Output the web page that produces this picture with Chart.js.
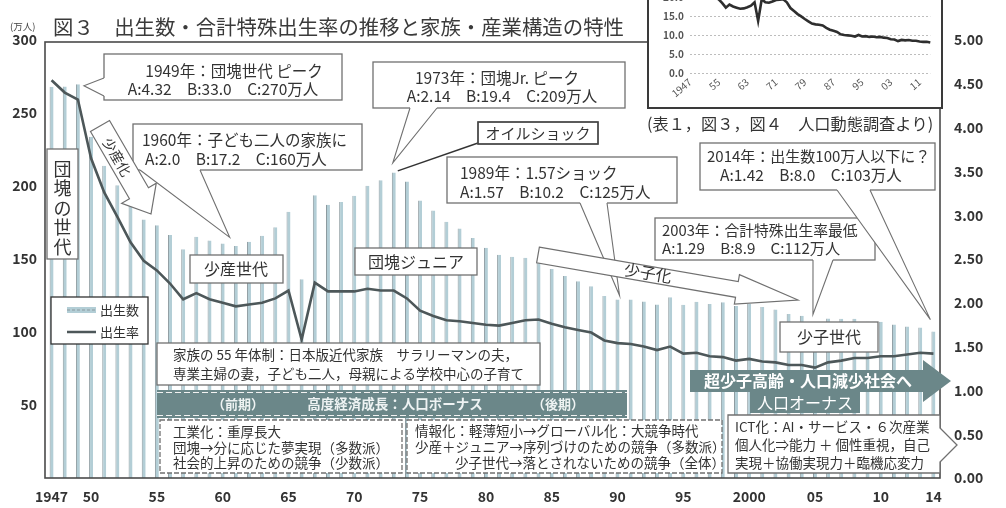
<!DOCTYPE html>
<html>
<head>
<meta charset="utf-8">
<script src="https://cdn.jsdelivr.net/npm/chart.js@4/dist/chart.umd.min.js"></script>
<style>
html, body { margin: 0; padding: 0; background: #fff; overflow: hidden; width: 1006px; height: 508px; }
#wrap { position: relative; width: 1006px; height: 508px; }
#main { position: absolute; left: 0; top: 0; }
#insetBox { position: absolute; left: 647px; top: -96px; width: 292px; height: 201px; border: 2px solid #3a3a3a; background: #fff; }
#inset { display: block; }
</style>
</head>
<body>
<div id="wrap">
  <canvas id="main" width="1006" height="508"></canvas>
  <div id="insetBox"><canvas id="inset" width="292" height="201"></canvas></div>
</div>
<script>
// data (births in 万人, TFR, crude birth rate per 1000)
var years = [1947,1948,1949,1950,1951,1952,1953,1954,1955,1956,
  1957,1958,1959,1960,1961,1962,1963,1964,1965,1966,
  1967,1968,1969,1970,1971,1972,1973,1974,1975,1976,
  1977,1978,1979,1980,1981,1982,1983,1984,1985,1986,
  1987,1988,1989,1990,1991,1992,1993,1994,1995,1996,
  1997,1998,1999,2000,2001,2002,2003,2004,2005,2006,
  2007,2008,2009,2010,2011,2012,2013,2014];
var births = [267.9,268.2,269.7,233.8,213.8,200.5,186.8,177.0,173.1,166.5,
  156.7,165.3,162.6,160.6,158.9,161.9,166.0,171.7,182.4,136.1,
  193.6,187.2,189.0,193.4,200.1,203.9,209.2,203.0,190.1,183.3,
  175.5,170.9,164.3,157.7,152.9,151.5,150.9,149.0,143.2,138.3,
  134.7,131.4,124.7,122.2,122.3,120.9,118.8,123.8,118.7,120.7,
  119.2,120.3,117.8,119.1,117.1,115.4,112.4,111.1,106.3,109.3,
  109.0,109.1,107.0,107.1,105.1,103.7,103.0,100.4];
var tfr = [4.54,4.40,4.32,3.65,3.26,2.98,2.69,2.48,2.37,2.22,
  2.04,2.11,2.04,2.00,1.96,1.98,2.00,2.05,2.14,1.58,
  2.23,2.13,2.13,2.13,2.16,2.14,2.14,2.05,1.91,1.85,
  1.80,1.79,1.77,1.75,1.74,1.77,1.80,1.81,1.76,1.72,
  1.69,1.66,1.57,1.54,1.53,1.50,1.46,1.50,1.42,1.43,
  1.39,1.38,1.34,1.36,1.33,1.32,1.29,1.29,1.26,1.32,
  1.34,1.37,1.37,1.39,1.39,1.41,1.43,1.42];
var crudeRate = [34.3,33.5,33.0,28.1,25.3,23.4,21.5,20.0,19.4,18.4,
  17.2,18.0,17.5,17.2,16.9,17.0,17.3,17.7,18.6,13.7,
  19.4,18.6,18.5,18.8,19.2,19.3,19.4,18.6,17.1,16.3,
  15.5,14.9,14.2,13.6,13.0,12.8,12.7,12.5,11.9,11.4,
  11.1,10.8,10.2,10.0,9.9,9.8,9.6,10.0,9.6,9.7,
  9.5,9.6,9.4,9.5,9.3,9.2,8.9,8.8,8.4,8.7,
  8.6,8.7,8.5,8.5,8.3,8.2,8.2,8.0];
var mainTickYears = [1947,1950,1955,1960,1965,1970,1975,1980,1985,1990,1995,2000,2005,2010,2014];
var mainTickLabels = ['1947','50','55','60','65','70','75','80','85','90','95','2000','05','10','14'];
var insetTickYears = [1947,1955,1963,1971,1979,1987,1995,2003,2011];
var insetTickLabels = ['1947','55','63','71','79','87','95','03','11'];

var JP = '"Noto Sans CJK JP", "Noto Sans", sans-serif';
var EDGE = '#707070';
var DARK = '#6b8789';

function txt(ctx, s, x, y, size, opt) {
  opt = opt || {};
  ctx.font = (opt.bold ? 'bold ' : '') + size + 'px ' + JP;
  ctx.fillStyle = opt.color || '#333';
  ctx.textAlign = opt.align || 'left';
  ctx.textBaseline = 'middle';
  ctx.fillText(s, x, y);
}
function box(ctx, x, y, w, h, dash) {
  ctx.fillStyle = '#fff';
  ctx.fillRect(x, y, w, h);
  ctx.strokeStyle = EDGE; ctx.lineWidth = 1.3;
  ctx.setLineDash(dash ? [5, 2] : []);
  ctx.strokeRect(x, y, w, h);
  ctx.setLineDash([]);
}
function callout(ctx, x, y, w, h, p1, p2, tip) {
  box(ctx, x, y, w, h);
  ctx.fillStyle = '#fff';
  ctx.beginPath(); ctx.moveTo(p1[0], p1[1]); ctx.lineTo(tip[0], tip[1]); ctx.lineTo(p2[0], p2[1]); ctx.closePath(); ctx.fill();
  // open the border where the wedge joins
  ctx.strokeStyle = '#fff'; ctx.lineWidth = 2.2;
  ctx.beginPath(); ctx.moveTo(p1[0], p1[1]); ctx.lineTo(p2[0], p2[1]); ctx.stroke();
  ctx.strokeStyle = EDGE; ctx.lineWidth = 1.1;
  ctx.beginPath(); ctx.moveTo(p1[0], p1[1]); ctx.lineTo(tip[0], tip[1]); ctx.lineTo(p2[0], p2[1]); ctx.stroke();
}
function blockArrow(ctx, x1, y1, x2, y2, bh, hh, hl, fill, stroke) {
  var ang = Math.atan2(y2 - y1, x2 - x1), L = Math.hypot(x2 - x1, y2 - y1);
  ctx.save(); ctx.translate(x1, y1); ctx.rotate(ang);
  ctx.beginPath();
  ctx.moveTo(0, -bh); ctx.lineTo(L - hl, -bh); ctx.lineTo(L - hl, -hh); ctx.lineTo(L, 0);
  ctx.lineTo(L - hl, hh); ctx.lineTo(L - hl, bh); ctx.lineTo(0, bh); ctx.closePath();
  ctx.fillStyle = fill; ctx.fill();
  if (stroke) { ctx.strokeStyle = stroke; ctx.lineWidth = 1.2; ctx.stroke(); }
  ctx.restore();
}
function rotText(ctx, s, x, y, ang, size) {
  ctx.save(); ctx.translate(x, y); ctx.rotate(ang);
  txt(ctx, s, 0, 0, size, { align: 'center' });
  ctx.restore();
}

var annotate = {
  id: 'annotate',
  afterDatasetsDraw: function(chart) {
    var ctx = chart.ctx, a = chart.chartArea;
    var xs = chart.scales.x, yl = chart.scales.y;
    var px = function(yr) { return xs.getPixelForValue(years.indexOf(yr)); };
    var py = function(v) { return yl.getPixelForValue(v); };
    ctx.save();
    // plot frame
    ctx.strokeStyle = '#4a4a4a'; ctx.lineWidth = 1.6;
    ctx.strokeRect(a.left, a.top + 2, a.right - a.left, a.bottom - a.top - 2);

    // callouts
    callout(ctx, 104, 54, 238, 46, [104, 78], [104, 96], [px(1949) + 6, py(270) + 2]);
    txt(ctx, '1949年：団塊世代 ピーク', 234, 71, 15.5, { align: 'center' });
    txt(ctx, 'A:4.32　B:33.0　C:270万人', 223, 89, 15.5, { align: 'center' });

    callout(ctx, 133, 124, 229, 46, [140, 170], [200, 170], [px(1960) + 7, py(160) - 7]);
    txt(ctx, '1960年：子ども二人の家族に', 142, 140, 15.5);
    txt(ctx, 'A:2.0　B:17.2　C:160万人', 145, 159, 15.5);

    callout(ctx, 373, 62, 252, 46, [410, 108], [437, 108], [px(1973) - 1, py(209) - 10]);
    txt(ctx, '1973年：団塊Jr. ピーク', 497, 78, 15.5, { align: 'center' });
    txt(ctx, 'A:2.14　B:19.4　C:209万人', 502, 96, 15.5, { align: 'center' });

    ctx.strokeStyle = '#333'; ctx.lineWidth = 1.5;
    ctx.beginPath(); ctx.moveTo(478, 143); ctx.lineTo(px(1973) + 4, py(209) - 2); ctx.stroke();
    box(ctx, 478, 122, 120, 22);
    ctx.strokeStyle = '#444'; ctx.lineWidth = 1.5; ctx.strokeRect(478, 122, 120, 22);
    txt(ctx, 'オイルショック', 538, 133, 15, { align: 'center' });

    callout(ctx, 447, 157, 230, 46, [580, 203], [607, 203], [px(1990) + 2, py(125)]);
    txt(ctx, '1989年：1.57ショック', 460, 173, 15.5);
    txt(ctx, 'A:1.57　B:10.2　C:125万人', 460, 192, 15.5);

    callout(ctx, 655, 218, 220, 42, [813, 260], [833, 260], [px(2005) - 2, py(112)]);
    txt(ctx, '2003年：合計特殊出生率最低', 662, 230, 14.8);
    txt(ctx, 'A:1.29　B:8.9　C:112万人', 662, 248, 15.2);

    callout(ctx, 700, 143, 235, 47, [837, 190], [870, 190], [px(2014) - 3, py(103) - 8]);
    txt(ctx, '2014年：出生数100万人以下に？', 707, 156, 15);
    txt(ctx, 'A:1.42　B:8.0　C:103万人', 720, 175, 15.5);

    // generation labels
    box(ctx, 47, 149, 31, 110);
    var dk = ['団', '塊', 'の', '世', '代'];
    for (var i = 0; i < dk.length; i++) txt(ctx, dk[i], 62.5, 169 + i * 19.5, 18, { align: 'center' });
    box(ctx, 190, 255, 93, 28); txt(ctx, '少産世代', 236, 269, 16, { align: 'center' });
    box(ctx, 355, 248, 122, 27); txt(ctx, '団塊ジュニア', 416, 262, 16, { align: 'center' });
    box(ctx, 780, 322, 98, 30); txt(ctx, '少子世代', 829, 337, 16, { align: 'center' });

    // arrows
    blockArrow(ctx, 100, 126, 151, 214, 11, 20, 24, '#fff', EDGE);
    rotText(ctx, '少産化', 117, 157, Math.atan2(88, 51), 14);
    blockArrow(ctx, 538, 255, 798, 300, 8, 15, 62, '#fff', EDGE);
    rotText(ctx, '少子化', 648, 273, Math.atan2(45, 260), 16);

    // legend
    ctx.fillStyle = '#fff'; ctx.fillRect(51, 297, 97, 47);
    ctx.strokeStyle = '#333'; ctx.lineWidth = 1.3; ctx.strokeRect(51, 297, 97, 47);
    ctx.fillStyle = '#b3ced6'; ctx.fillRect(67, 307, 29, 6);
    ctx.strokeStyle = '#8c9a9f'; ctx.lineWidth = 1; ctx.setLineDash([3, 2]);
    ctx.beginPath(); ctx.moveTo(67, 310); ctx.lineTo(96, 310); ctx.stroke(); ctx.setLineDash([]);
    txt(ctx, '出生数', 100, 310, 13);
    ctx.strokeStyle = '#4d5759'; ctx.lineWidth = 2.5;
    ctx.beginPath(); ctx.moveTo(67, 332); ctx.lineTo(96, 332); ctx.stroke();
    txt(ctx, '出生率', 100, 332, 13);

    // family system box
    box(ctx, 157, 343, 383, 42);
    txt(ctx, '家族の 55 年体制：日本版近代家族　サラリーマンの夫，', 173, 355, 13.5);
    txt(ctx, '専業主婦の妻，子ども二人，母親による学校中心の子育て', 173, 374, 13.5);

    // high growth band
    ctx.fillStyle = DARK; ctx.fillRect(157, 390, 470, 28);
    ctx.strokeStyle = '#f2f2f2'; ctx.lineWidth = 1.2; ctx.setLineDash([6, 3]);
    ctx.beginPath(); ctx.moveTo(157, 392.5); ctx.lineTo(627, 392.5); ctx.moveTo(157, 415.5); ctx.lineTo(627, 415.5); ctx.stroke();
    ctx.setLineDash([]);
    txt(ctx, '（前期）', 238, 404, 13, { align: 'center', bold: true, color: '#eef3f3' });
    txt(ctx, '高度経済成長：人口ボーナス', 395, 404, 13.5, { align: 'center', bold: true, color: '#eef3f3' });
    txt(ctx, '（後期）', 558, 404, 13, { align: 'center', bold: true, color: '#eef3f3' });

    // shrinking society arrow
    blockArrow(ctx, 690, 381, 951, 381, 11, 21, 28, DARK, null);
    txt(ctx, '超少子高齢・人口減少社会へ', 808, 381, 16, { align: 'center', bold: true, color: '#fff' });
    ctx.fillStyle = DARK; ctx.fillRect(750, 392, 110, 21);
    txt(ctx, '人口オーナス', 805, 403, 16, { align: 'center', color: '#fff' });

    // industry boxes
    box(ctx, 160, 420, 242, 53, true);
    txt(ctx, '工業化：重厚長大', 173, 432, 13.5);
    txt(ctx, '団塊→分に応じた夢実現（多数派）', 173, 448, 13.5);
    txt(ctx, '社会的上昇のための競争（少数派）', 173, 463, 13.5);

    box(ctx, 407, 420, 315, 53, true);
    txt(ctx, '情報化：軽薄短小→グローバル化：大競争時代', 415, 431, 13.5);
    txt(ctx, '少産＋ジュニア→序列づけのための競争（多数派）', 415, 447, 13.5);
    txt(ctx, '少子世代→落とされないための競争（全体）', 455, 463, 13.5);

    ctx.fillStyle = '#fff';
    ctx.beginPath();
    ctx.moveTo(728, 415); ctx.lineTo(940, 415); ctx.lineTo(940, 428); ctx.lineTo(957, 445);
    ctx.lineTo(940, 462); ctx.lineTo(940, 473); ctx.lineTo(728, 473); ctx.closePath();
    ctx.fill(); ctx.strokeStyle = EDGE; ctx.lineWidth = 1.3; ctx.stroke();
    txt(ctx, 'ICT化：AI・サービス・６次産業', 735, 427, 13.5);
    txt(ctx, '個人化⇒能力 ＋ 個性重視，自己', 735, 445, 13.5);
    txt(ctx, '実現＋協働実現力＋臨機応変力', 735, 463, 13.5);
    ctx.restore();
  },
  afterDraw: function(chart) {
    var ctx = chart.ctx;
    ctx.save();
    txt(ctx, '図３　出生数・合計特殊出生率の推移と家族・産業構造の特性', 53, 27, 20.4, { color: '#3a3a3a' });
    txt(ctx, '(万人)', 10, 26, 9.5, { color: '#444' });
    txt(ctx, '(表１，図３，図４　人口動態調査より)', 647, 124, 16.2, { color: '#333' });
    ctx.restore();
  }
};

new Chart(document.getElementById('main'), {
  data: {
    labels: years,
    datasets: [
      { type: 'line', label: '出生率', data: tfr, yAxisID: 'y1', order: 0,
        borderColor: '#4d5759', borderWidth: 2.6, pointRadius: 0, tension: 0 },
      { type: 'bar', label: '出生数', data: births, yAxisID: 'y', order: 1,
        backgroundColor: '#b3ced6', borderColor: '#8d9ba0',
        borderWidth: { left: 1, right: 0, top: 0, bottom: 0 },
        barPercentage: 0.3, categoryPercentage: 1 }
    ]
  },
  options: {
    responsive: false,
    animation: false,
    layout: { padding: { top: 40, left: 0, right: 0, bottom: 0 } },
    plugins: { legend: { display: false }, tooltip: { enabled: false } },
    scales: {
      x: {
        offset: true,
        grid: { display: false, drawTicks: false },
        border: { display: false },
        ticks: {
          autoSkip: false, maxRotation: 0, minRotation: 0, padding: 10,
          color: '#333', font: { size: 14, weight: 'bold', family: JP },
          callback: function(v, i) {
            var k = mainTickYears.indexOf(years[i]);
            return k >= 0 ? mainTickLabels[k] : '';
          }
        },
        afterFit: function(s) { s.height = 30; }
      },
      y: {
        position: 'left', min: 0, max: 300,
        grid: { display: false, drawTicks: false },
        border: { display: false },
        ticks: {
          stepSize: 50, padding: 8, color: '#333', font: { size: 14, weight: 'bold', family: JP },
          callback: function(v) { return v === 0 ? '' : v; }
        },
        afterFit: function(s) { s.width = 45; }
      },
      y1: {
        position: 'right', min: 0, max: 5,
        grid: { display: false, drawTicks: false },
        border: { display: false },
        ticks: {
          stepSize: 0.5, padding: 14, color: '#333', font: { size: 14, weight: 'bold', family: JP },
          callback: function(v) { return v.toFixed(2); }
        },
        afterFit: function(s) { s.width = 66; }
      }
    }
  },
  plugins: [annotate]
});

// inset: crude birth rate
new Chart(document.getElementById('inset'), {
  type: 'line',
  data: {
    labels: years,
    datasets: [{ data: crudeRate, borderColor: '#2e2e2e', borderWidth: 2.6, pointRadius: 0, tension: 0 }]
  },
  options: {
    responsive: false,
    animation: false,
    layout: { padding: { top: 15, right: 9, left: 0, bottom: 0 } },
    plugins: { legend: { display: false }, tooltip: { enabled: false } },
    scales: {
      x: {
        grid: { display: false, drawTicks: false },
        border: { display: false },
        ticks: {
          autoSkip: false, minRotation: 40, maxRotation: 40, padding: 3,
          color: '#555', font: { size: 10, family: JP },
          callback: function(v, i) {
            var k = insetTickYears.indexOf(years[i]);
            return k >= 0 ? insetTickLabels[k] : '';
          }
        },
        afterFit: function(s) { s.height = 34; }
      },
      y: {
        min: 0, max: 40,
        grid: { color: '#bdbdbd', drawTicks: false },
        border: { display: false, dash: [2, 2] },
        ticks: {
          stepSize: 5, padding: 6, color: '#555', font: { size: 10, weight: 'bold', family: JP },
          callback: function(v) { return v.toFixed(1); }
        },
        afterFit: function(s) { s.width = 41; }
      }
    }
  }
});
</script>
</body>
</html>
